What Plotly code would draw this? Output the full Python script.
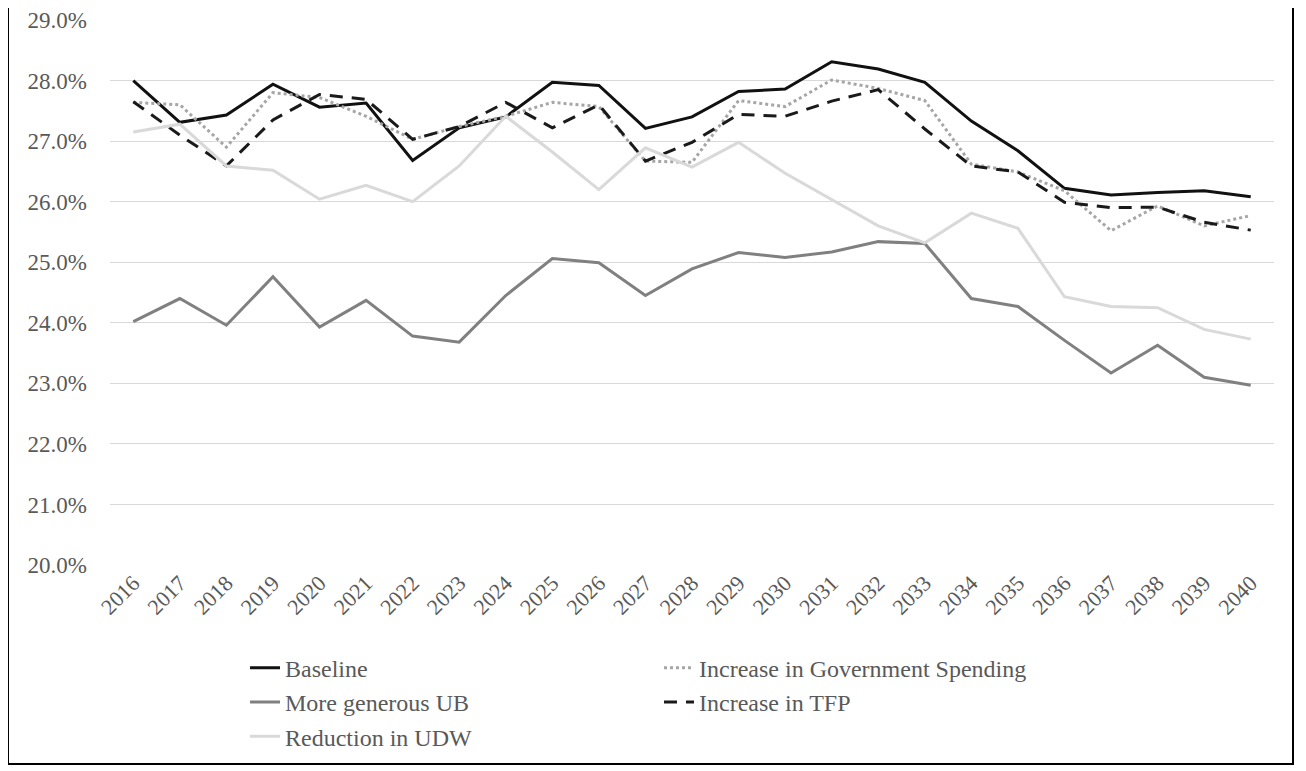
import plotly.graph_objects as go

years = [str(y) for y in range(2016, 2041)]

baseline = [28.00, 27.31, 27.43, 27.94, 27.56, 27.63, 26.68, 27.22, 27.40, 27.97,
            27.92, 27.21, 27.40, 27.82, 27.86, 28.31, 28.19, 27.97, 27.33, 26.84,
            26.22, 26.11, 26.15, 26.18, 26.08]
gov_spending = [27.64, 27.60, 26.90, 27.80, 27.72, 27.41, 27.03, 27.24, 27.41, 27.64,
                27.57, 26.67, 26.65, 27.67, 27.57, 28.01, 27.87, 27.67, 26.62, 26.49,
                26.18, 25.52, 25.93, 25.60, 25.77]
generous_ub = [24.02, 24.40, 23.96, 24.76, 23.93, 24.37, 23.78, 23.68, 24.45, 25.06,
               24.99, 24.45, 24.89, 25.16, 25.08, 25.17, 25.34, 25.31, 24.40, 24.27,
               23.71, 23.17, 23.63, 23.10, 22.97]
tfp = [27.65, 27.10, 26.59, 27.35, 27.77, 27.69, 27.03, 27.24, 27.64, 27.22,
       27.60, 26.67, 26.98, 27.44, 27.41, 27.66, 27.85, 27.20, 26.59, 26.49,
       25.99, 25.90, 25.91, 25.66, 25.53]
udw = [27.15, 27.28, 26.59, 26.52, 26.04, 26.27, 26.00, 26.59, 27.41, 26.82,
       26.20, 26.89, 26.57, 26.98, 26.47, 26.04, 25.60, 25.32, 25.81, 25.56,
       24.43, 24.27, 24.25, 23.89, 23.73]

series = [
    ("Baseline", baseline, "#111111", "solid"),
    ("Increase in Government Spending", gov_spending, "#a6a6a6", "dot"),
    ("More generous UB", generous_ub, "#808080", "solid"),
    ("Increase in TFP", tfp, "#1a1a1a", "13px,9px"),
    ("Reduction in UDW", udw, "#d9d9d9", "solid"),
]

FONT = "Liberation Serif, Times New Roman, DejaVu Serif, serif"
fig = go.Figure()
for name, vals, color, dash in series:
    fig.add_trace(go.Scatter(x=years, y=vals, name=name, mode="lines",
                             line=dict(color=color, width=3, dash=dash)))

# page has an 8px body margin; figure is sized so it fits the window
W, H = 1298, 763
fig.update_layout(
    width=W, height=H,
    margin=dict(l=102, r=32, t=12, b=203),
    paper_bgcolor="white", plot_bgcolor="white",
    font=dict(family=FONT, color="#595959"),
    showlegend=True,
    legend=dict(orientation="h", x=0.116, y=-0.148, xanchor="left", yanchor="top",
                font=dict(family=FONT, size=24, color="#595959"),
                itemwidth=30, entrywidth=369, traceorder="normal",
                bgcolor="rgba(0,0,0,0)"),
    xaxis=dict(type="category", range=[-0.5, 24.5], tickangle=-45,
               tickfont=dict(family=FONT, size=22, color="#595959"),
               showgrid=False, showline=False, zeroline=False, ticks="",
               automargin=False),
    yaxis=dict(range=[20, 29], dtick=1, tickformat=".1f", ticksuffix="%",
               tickfont=dict(family=FONT, size=23, color="#595959"),
               gridcolor="#d9d9d9", gridwidth=1, zeroline=False, showline=False,
               ticklabelstandoff=22, automargin=False),
)

pw, ph = W - 102 - 32, H - 12 - 203
fig.add_shape(type="rect", xref="paper", yref="paper",
              x0=(0 - 102) / pw, x1=(1285 - 102) / pw,
              y0=-(760 - 12 - ph) / ph, y1=(ph + 12 + 2) / ph,
              line=dict(color="black", width=2), layer="above")

fig.write_html("out.html")
